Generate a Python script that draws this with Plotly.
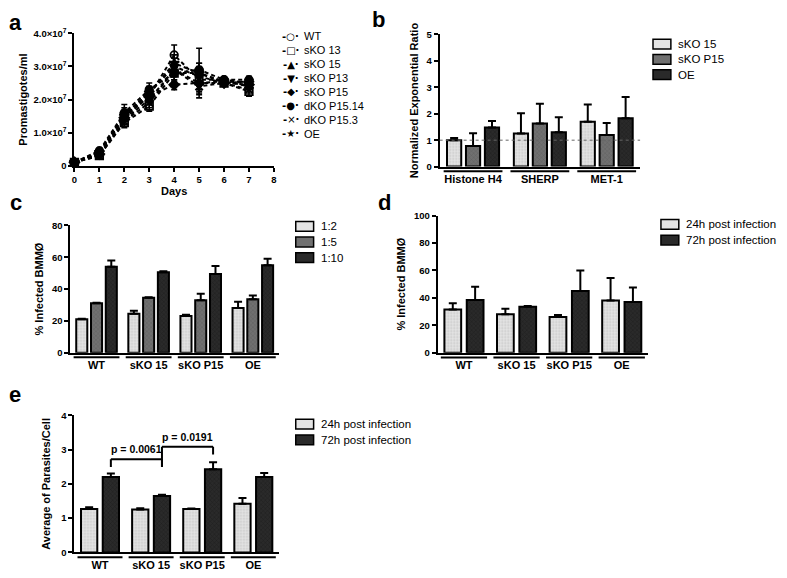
import plotly.graph_objects as go

W, H = 787, 578
FONT = "Liberation Sans, Arial, sans-serif"


def px(x):
    return x / W


def py(y):
    return 1 - y / H


# ---- panel a: growth curves (values in units of 1e7 promastigotes/ml)
days = [0, 1, 2, 3, 4, 5, 6, 7]
growth_names = ["WT", "sKO 13", "sKO 15", "sKO P13", "sKO P15", "dKO P15.14", "dKO P15.3", "OE"]
growth_symbols = ["circle-open", "square-open", "triangle-up", "triangle-down",
                  "diamond", "circle", "x-thin-open", "star"]
growth_glyphs = ["○", "□", "▲", "▼", "◆", "●", "×", "★"]
growth_vals = [
    [0.10, 0.40, 1.50, 2.10, 3.35, 2.60, 2.60, 2.50],
    [0.10, 0.30, 1.30, 1.80, 2.80, 2.80, 2.50, 2.25],
    [0.10, 0.35, 1.40, 2.00, 2.90, 2.50, 2.55, 2.40],
    [0.10, 0.40, 1.55, 2.20, 3.00, 2.70, 2.50, 2.55],
    [0.10, 0.35, 1.45, 2.10, 2.45, 2.50, 2.50, 2.45],
    [0.10, 0.45, 1.60, 2.30, 2.80, 2.90, 2.60, 2.60],
    [0.10, 0.30, 1.35, 1.90, 2.90, 2.40, 2.50, 2.30],
    [0.10, 0.40, 1.50, 2.20, 3.10, 2.80, 2.55, 2.50],
]
growth_errs = [
    [0.02, 0.08, 0.15, 0.20, 0.30, 0.30, 0.05, 0.10],
    [0.02, 0.10, 0.15, 0.15, 0.20, 0.75, 0.05, 0.15],
    [0.02, 0.08, 0.15, 0.15, 0.20, 0.30, 0.05, 0.10],
    [0.02, 0.08, 0.30, 0.20, 0.25, 0.30, 0.05, 0.10],
    [0.02, 0.05, 0.10, 0.15, 0.15, 0.25, 0.05, 0.10],
    [0.02, 0.05, 0.15, 0.20, 0.25, 0.20, 0.05, 0.10],
    [0.02, 0.05, 0.10, 0.15, 0.20, 0.25, 0.05, 0.10],
    [0.02, 0.05, 0.15, 0.15, 0.25, 0.30, 0.05, 0.10],
]
growth_ticks = [0, 1, 2, 3, 4]
growth_ticktext = ["0", "1.0×10<sup>7</sup>", "2.0×10<sup>7</sup>", "3.0×10<sup>7</sup>", "4.0×10<sup>7</sup>"]

# ---- panel b: qPCR ratios
genes = ["Histone H4", "SHERP", "MET-1"]
qpcr_names = ["sKO 15", "sKO P15", "OE"]
qpcr_vals = [[1.00, 1.25, 1.70], [0.78, 1.63, 1.20], [1.48, 1.30, 1.83]]
qpcr_errs = [[0.08, 0.77, 0.65], [0.48, 0.75, 0.45], [0.25, 0.57, 0.80]]

# ---- panel c: infection ratio
lines = ["WT", "sKO 15", "sKO P15", "OE"]
ratio_names = ["1:2", "1:5", "1:10"]
ratio_vals = [[21, 24.5, 23, 28], [31, 34.5, 33, 33.5], [54, 50.5, 49.5, 55]]
ratio_errs = [[0.3, 1.8, 0.8, 4], [0.3, 0.3, 4, 2.5], [4, 0.6, 5, 4]]

# ---- panel d: % infected over time
time_names = ["24h post infection", "72h post infection"]
infected_vals = [[31.5, 28, 26, 38], [38.5, 33.5, 45, 37]]
infected_errs = [[4.5, 4, 1.5, 16.5], [9.5, 0.5, 15, 10.5]]

# ---- panel e: parasites per cell
parasite_vals = [[1.27, 1.25, 1.27, 1.42], [2.20, 1.65, 2.43, 2.20]]
parasite_errs = [[0.05, 0.04, 0.01, 0.17], [0.10, 0.03, 0.20, 0.12]]
pvalue_text = ["p = 0.0061", "p = 0.0191"]
pvalue_groups = [(0, 1), (1, 2)]
pvalue_top = [2.72, 3.08]
pvalue_legs = [(2.49, 2.49), (2.49, 2.86)]

BARGAP = 0.15
BARGROUPGAP = 0.25

styles = {
    "light": dict(color="#e4e4e4", fg="#a8a8a8", shape="."),
    "mid": dict(color="#707070", fg="#4e4e4e", shape="x"),
    "dark": dict(color="#2a2a2a", fg="#101010", shape="x"),
}


def bar(xcats, vals, errs, style, name, xa, ya):
    s = styles[style]
    return go.Bar(
        x=xcats, y=vals, name=name, xaxis=xa, yaxis=ya, showlegend=False,
        marker=dict(color=s["color"], line=dict(color="black", width=2),
                    pattern=dict(shape=s["shape"], fgcolor=s["fg"], size=3,
                                 solidity=0.3, fillmode="overlay")),
        error_y=dict(type="data", array=errs, arrayminus=[0] * len(errs),
                     symmetric=False, color="black", thickness=2, width=4),
    )


fig = go.Figure()

# a
for name, sym, vals, errs in zip(growth_names, growth_symbols, growth_vals, growth_errs):
    fig.add_trace(go.Scatter(
        x=days, y=vals, name=name, mode="lines+markers", showlegend=False,
        line=dict(color="black", width=2, dash="4px,3px"),
        marker=dict(symbol=sym, size=7.5, color="black",
                    line=dict(color="black", width=1.8)),
        error_y=dict(type="data", array=errs, color="black", thickness=1.6, width=3),
        cliponaxis=False, xaxis="x", yaxis="y",
    ))

# b
for name, vals, errs, st in zip(qpcr_names, qpcr_vals, qpcr_errs, ["light", "mid", "dark"]):
    fig.add_trace(bar(genes, vals, errs, st, name, "x2", "y2"))

# c
for name, vals, errs, st in zip(ratio_names, ratio_vals, ratio_errs, ["light", "mid", "dark"]):
    fig.add_trace(bar(lines, vals, errs, st, name, "x3", "y3"))

# d
for name, vals, errs, st in zip(time_names, infected_vals, infected_errs, ["light", "dark"]):
    fig.add_trace(bar(lines, vals, errs, st, name, "x4", "y4"))

# e
for name, vals, errs, st in zip(time_names, parasite_vals, parasite_errs, ["light", "dark"]):
    fig.add_trace(bar(lines, vals, errs, st, name, "x5", "y5"))

tickfont = dict(family=FONT, size=9.5, color="black", weight="bold")
catfont = dict(family=FONT, size=11, color="black", weight="bold")
titlefont = dict(family=FONT, size=11, color="black", weight="bold")
axis_common = dict(showline=True, linecolor="black", linewidth=2, showgrid=False,
                   zeroline=False, ticks="outside", ticklen=4, tickwidth=1.5,
                   tickcolor="black", tickfont=tickfont)
cat_common = dict(showline=True, linecolor="black", linewidth=2, showgrid=False,
                  zeroline=False, ticks="", tickfont=catfont, type="category",
                  ticklabelstandoff=1)

fig.update_layout(
    width=W, height=H, margin=dict(l=0, r=0, t=0, b=0),
    paper_bgcolor="white", plot_bgcolor="white",
    barmode="group", bargap=BARGAP, bargroupgap=BARGROUPGAP,
    font=dict(family=FONT, color="black"),
    xaxis=dict(domain=[px(72), px(273)], anchor="y", range=[0, 8], tickvals=list(range(9)),
               title=dict(text="Days", font=titlefont, standoff=2), **axis_common),
    yaxis=dict(domain=[py(162), py(27)], anchor="x", range=[0, 4],
               tickvals=growth_ticks, ticktext=growth_ticktext,
               title=dict(text="Promastigotes/ml", font=titlefont, standoff=4), **axis_common),
    xaxis2=dict(domain=[px(440), px(642)], anchor="y2", **cat_common),
    yaxis2=dict(domain=[py(163), py(28)], anchor="x2", range=[0, 5], dtick=1,
                title=dict(text="Normalized Exponential Ratio", font=titlefont, standoff=6),
                **axis_common),
    xaxis3=dict(domain=[px(68), px(278)], anchor="y3", **cat_common),
    yaxis3=dict(domain=[py(353), py(223)], anchor="x3", range=[0, 80], dtick=20,
                title=dict(text="% Infected BMMØ", font=titlefont, standoff=6), **axis_common),
    xaxis4=dict(domain=[px(438), px(650)], anchor="y4", **cat_common),
    yaxis4=dict(domain=[py(353), py(213)], anchor="x4", range=[0, 100], dtick=20,
                title=dict(text="% Infected BMMØ", font=titlefont, standoff=6), **axis_common),
    xaxis5=dict(domain=[px(72), px(278)], anchor="y5", **cat_common),
    yaxis5=dict(domain=[py(557), py(417)], anchor="x5", range=[0, 4], dtick=1,
                title=dict(text="Average of Parasites/Cell", font=titlefont, standoff=8),
                **axis_common),
)

shapes = []
annotations = []

# dotted reference line at ratio 1
shapes.append(dict(type="line", xref="x2 domain", yref="y2", x0=0, x1=1, y0=1, y1=1,
                   line=dict(color="#666", width=1, dash="dot")))
# group underlines
for xa, ya, cats in [("x2", "y2", genes), ("x3", "y3", lines), ("x4", "y4", lines), ("x5", "y5", lines)]:
    for i in range(len(cats)):
        shapes.append(dict(type="line", xref=xa, yref=ya + " domain",
                           x0=i - 0.44, x1=i + 0.44, y0=-0.035, y1=-0.035,
                           line=dict(color="black", width=2)))
# significance brackets on 72h bars in panel e
off = (1 - BARGAP) / 4
for (g0, g1), top, (l0, l1), txt in zip(pvalue_groups, pvalue_top, pvalue_legs, pvalue_text):
    x0, x1 = g0 + off, g1 + off
    for xa0, ya0, xa1, ya1 in [(x0, l0, x0, top), (x0, top, x1, top), (x1, top, x1, l1)]:
        shapes.append(dict(type="line", xref="x5", yref="y5", x0=xa0, y0=ya0, x1=xa1, y1=ya1,
                           line=dict(color="black", width=2)))
    annotations.append(dict(x=(x0 + x1) / 2, y=top, xref="x5", yref="y5", text=txt,
                            showarrow=False, yanchor="bottom", yshift=2,
                            font=dict(family=FONT, size=10.5, color="black", weight="bold")))

# legend for panel a (symbol + name)
leg_font = dict(family=FONT, size=11, color="black")
for i, (name, glyph) in enumerate(zip(growth_names, growth_glyphs)):
    yy = 30 + i * 14.2
    annotations.append(dict(x=px(290), y=py(yy), xref="paper", yref="paper",
                            text="<b>-</b>" + glyph + "<b>·</b>", showarrow=False, xanchor="center",
                            yanchor="middle", font=dict(family="DejaVu Sans", size=10, color="black")))
    annotations.append(dict(x=px(301), y=py(yy), xref="paper", yref="paper", text=name,
                            showarrow=False, xanchor="left", yanchor="middle", font=leg_font))

# legends for bar panels: swatch + name
bar_legends = [
    (655, 38, 15.5, qpcr_names, ["light", "mid", "dark"]),
    (295, 224, 16, ratio_names, ["light", "mid", "dark"]),
    (663, 222, 16, time_names, ["light", "dark"]),
    (295, 426, 16, time_names, ["light", "dark"]),
]
for lx, ly, step, names, sts in bar_legends:
    for i, (name, st) in enumerate(zip(names, sts)):
        yy = ly + i * step
        shapes.append(dict(type="rect", xref="paper", yref="paper",
                           x0=px(lx), x1=px(lx + 18), y0=py(yy + 5), y1=py(yy - 5),
                           fillcolor=styles[st]["color"], line=dict(color="black", width=1.5)))
        annotations.append(dict(x=px(lx + 23), y=py(yy), xref="paper", yref="paper", text=name,
                                showarrow=False, xanchor="left", yanchor="middle",
                                font=dict(family=FONT, size=11.5, color="black")))

for letter, lx, ly in [("a", 13, 16), ("b", 378, 13), ("c", 13, 200), ("d", 384, 200), ("e", 12, 396)]:
    annotations.append(dict(x=px(lx), y=py(ly), xref="paper", yref="paper", text=letter,
                            showarrow=False, xanchor="center", yanchor="middle",
                            font=dict(family=FONT, size=22, color="black", weight="bold")))

fig.update_layout(shapes=shapes, annotations=annotations)

fig.write_html("out.html", config={"displayModeBar": False},
               post_script="document.body.style.margin='0px';")
